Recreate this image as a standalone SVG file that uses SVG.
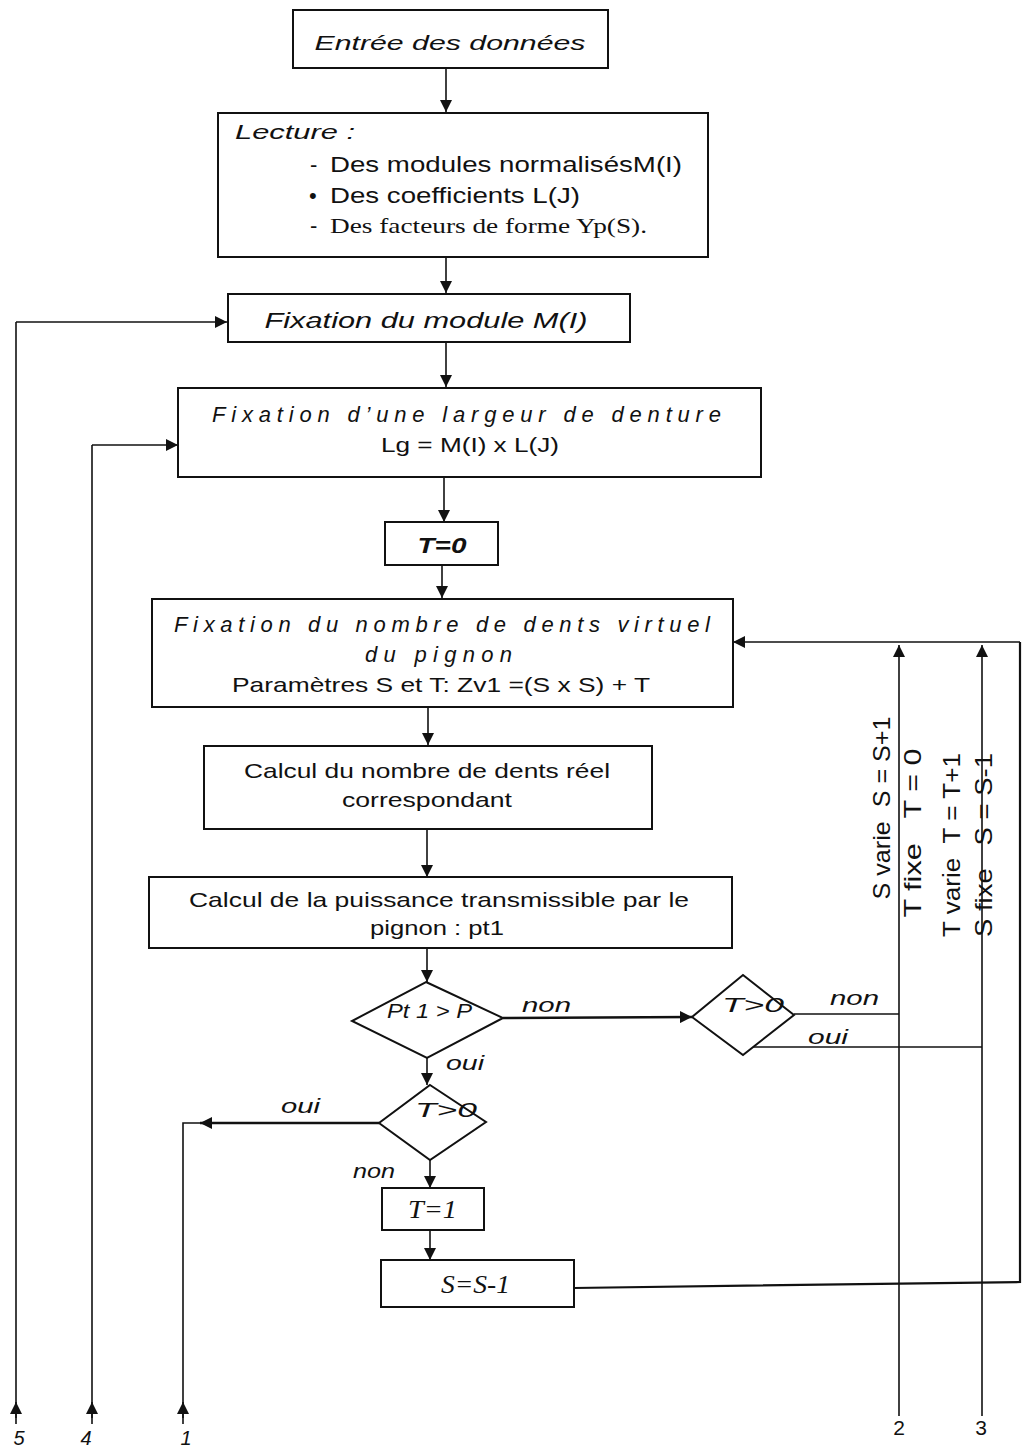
<svg xmlns="http://www.w3.org/2000/svg" width="1024" height="1454" viewBox="0 0 1024 1454">
<defs>
<marker id="ah" markerWidth="12" markerHeight="12" refX="12" refY="6" orient="auto" markerUnits="userSpaceOnUse">
<path d="M0,0 L12,6 L0,12 Z" fill="#111"/>
</marker>
<style>
.box{fill:#fff;stroke:#111;stroke-width:2}
.ln{fill:none;stroke:#111;stroke-width:1.6}
.arr{fill:none;stroke:#111;stroke-width:1.6;marker-end:url(#ah)}
.t{font-family:"Liberation Sans",Arial,sans-serif;fill:#111}
.i{font-style:italic}
.s{font-family:"Liberation Serif","Times New Roman",serif;fill:#111}
.c{text-anchor:middle}
</style>
</defs>
<rect width="1024" height="1454" fill="#fff"/>

<g id="connectors">
<path class="arr" d="M446,68 V112"/>
<path class="arr" d="M446,257 V293"/>
<path class="arr" d="M446,342 V387"/>
<path class="arr" d="M444,477 V522"/>
<path class="arr" d="M442,565 V598"/>
<path class="arr" d="M428,707 V745"/>
<path class="arr" d="M427,830 V877"/>
<path class="arr" d="M427,948 V982"/>
<path class="arr" d="M503,1018 L692,1017" style="stroke-width:2.4"/>
<path class="arr" d="M427,1058 V1085"/>
<path class="arr" d="M379,1123 H200" style="stroke-width:2.4"/>
<path class="ln" d="M200,1123 H183 V1424"/>
<path class="arr" d="M183,1418 V1402"/>
<path class="ln" d="M16,1424 V322"/>
<path class="arr" d="M16,322 H227"/>
<path class="arr" d="M16,1418 V1402"/>
<path class="ln" d="M92,1424 V445"/>
<path class="arr" d="M92,445 H178"/>
<path class="arr" d="M92,1418 V1402"/>
<path class="arr" d="M430,1160 V1188"/>
<path class="arr" d="M430,1230 V1260"/>
<path class="ln" d="M574,1288 L1020,1282 V642" style="stroke-width:2.2"/>
<path class="arr" d="M1020,642 H733"/>
<path class="ln" d="M794,1014 H899"/>
<path class="ln" d="M753,1047 H982"/>
<path class="arr" d="M899,1416 V645"/>
<path class="arr" d="M982,1416 V645"/>
</g>

<g id="n1">
<rect class="box" x="293" y="10" width="315" height="58"/>
<text class="t i c" x="450" y="50" font-size="21" textLength="271" lengthAdjust="spacingAndGlyphs">Entrée des données</text>
</g>

<g id="n2">
<rect class="box" x="218" y="113" width="490" height="144"/>
<text class="t i" x="235" y="139" font-size="21" textLength="120" lengthAdjust="spacingAndGlyphs">Lecture :</text>
<text class="t" x="310" y="172" font-size="22">-</text>
<text class="t" x="330" y="172" font-size="22" textLength="352" lengthAdjust="spacingAndGlyphs">Des modules normalisésM(I)</text>
<text class="t" x="309" y="203" font-size="22">•</text>
<text class="t" x="330" y="203" font-size="22" textLength="250" lengthAdjust="spacingAndGlyphs">Des coefficients L(J)</text>
<text class="t" x="310" y="233" font-size="22">-</text>
<text class="s" x="330" y="233" font-size="22" textLength="317" lengthAdjust="spacingAndGlyphs">Des facteurs de forme Yp(S).</text>
</g>

<g id="n3">
<rect class="box" x="228" y="294" width="402" height="48"/>
<text class="t i c" x="426" y="328" font-size="22" textLength="323" lengthAdjust="spacingAndGlyphs">Fixation du module M(I)</text>
</g>

<g id="n4">
<rect class="box" x="178" y="388" width="583" height="89"/>
<text class="t i" x="212" y="422" font-size="22" textLength="509" lengthAdjust="spacing">Fixation d’une largeur de denture</text>
<text class="t c" x="470" y="452" font-size="20" textLength="178" lengthAdjust="spacingAndGlyphs">Lg = M(I) x L(J)</text>
</g>

<g id="n5">
<rect class="box" x="385" y="522" width="113" height="43"/>
<text class="t i c" x="442" y="553" font-size="22" font-weight="bold" textLength="49" lengthAdjust="spacingAndGlyphs">T=0</text>
</g>

<g id="n6">
<rect class="box" x="152" y="599" width="581" height="108"/>
<text class="t i" x="174" y="632" font-size="22" textLength="536" lengthAdjust="spacing">Fixation du nombre de dents virtuel</text>
<text class="t i" x="365" y="662" font-size="22" textLength="147" lengthAdjust="spacing">du pignon</text>
<text class="t" x="232" y="692" font-size="21" textLength="418" lengthAdjust="spacingAndGlyphs">Paramètres S et T: Zv1 =(S x S) + T</text>
</g>

<g id="n7">
<rect class="box" x="204" y="746" width="448" height="83"/>
<text class="t" x="244" y="778" font-size="21" textLength="366" lengthAdjust="spacingAndGlyphs">Calcul du nombre de dents réel</text>
<text class="t" x="342" y="807" font-size="21" textLength="170" lengthAdjust="spacingAndGlyphs">correspondant</text>
</g>

<g id="n8">
<rect class="box" x="149" y="877" width="583" height="71"/>
<text class="t" x="189" y="907" font-size="21" textLength="500" lengthAdjust="spacingAndGlyphs">Calcul de la puissance transmissible par le</text>
<text class="t" x="370" y="935" font-size="21" textLength="134" lengthAdjust="spacingAndGlyphs">pignon : pt1</text>
</g>

<g id="d1">
<polygon class="box" points="426,982 503,1018 427,1058 352,1021"/>
<text class="t i" x="387" y="1018" font-size="21" textLength="85" lengthAdjust="spacingAndGlyphs">Pt 1 &gt; P</text>
</g>

<g id="d2">
<polygon class="box" points="743,975 794,1015 743,1055 692,1017"/>
<text class="t i" x="722" y="1012" font-size="21" textLength="62" lengthAdjust="spacingAndGlyphs">T&gt;0</text>
</g>

<g id="d3">
<polygon class="box" points="430,1085 486,1122 430,1160 379,1123"/>
<text class="t i" x="415" y="1117" font-size="21" textLength="62" lengthAdjust="spacingAndGlyphs">T&gt;0</text>
</g>

<g id="n9">
<rect class="box" x="382" y="1188" width="102" height="42"/>
<text class="s i" x="408" y="1218" font-size="26" textLength="49" lengthAdjust="spacingAndGlyphs">T=1</text>
</g>

<g id="n10">
<rect class="box" x="381" y="1260" width="193" height="47"/>
<text class="s i" x="441" y="1293" font-size="26" textLength="69" lengthAdjust="spacingAndGlyphs">S=S-1</text>
</g>

<g id="labels">
<text class="t i" x="522" y="1012" font-size="21" textLength="49" lengthAdjust="spacingAndGlyphs">non</text>
<text class="t i" x="830" y="1005" font-size="21" textLength="49" lengthAdjust="spacingAndGlyphs">non</text>
<text class="t i" x="808" y="1044" font-size="21" textLength="40" lengthAdjust="spacingAndGlyphs">oui</text>
<text class="t i" x="446" y="1070" font-size="21" textLength="38" lengthAdjust="spacingAndGlyphs">oui</text>
<text class="t i" x="281" y="1113" font-size="21" textLength="39" lengthAdjust="spacingAndGlyphs">oui</text>
<text class="t i" x="353" y="1178" font-size="21" textLength="42" lengthAdjust="spacingAndGlyphs">non</text>
<text class="t c" font-size="24" transform="translate(890,808) rotate(-90)" textLength="183" lengthAdjust="spacingAndGlyphs" xml:space="preserve">S varie  S = S+1</text>
<text class="t c" font-size="24" transform="translate(921,833) rotate(-90)" textLength="169" lengthAdjust="spacingAndGlyphs" xml:space="preserve">T fixe   T = 0</text>
<text class="t c" font-size="23" transform="translate(960,845) rotate(-90)" textLength="184" lengthAdjust="spacingAndGlyphs" xml:space="preserve">T varie  T = T+1</text>
<text class="t c" font-size="24" transform="translate(992,845) rotate(-90)" textLength="184" lengthAdjust="spacingAndGlyphs" xml:space="preserve">S fixe   S = S-1</text>
<text class="t i c" x="19" y="1445" font-size="20">5</text>
<text class="t i c" x="86" y="1445" font-size="20">4</text>
<text class="t i c" x="186" y="1445" font-size="20">1</text>
<text class="t c" x="899" y="1435" font-size="21">2</text>
<text class="t c" x="981" y="1435" font-size="21">3</text>
</g>
</svg>
